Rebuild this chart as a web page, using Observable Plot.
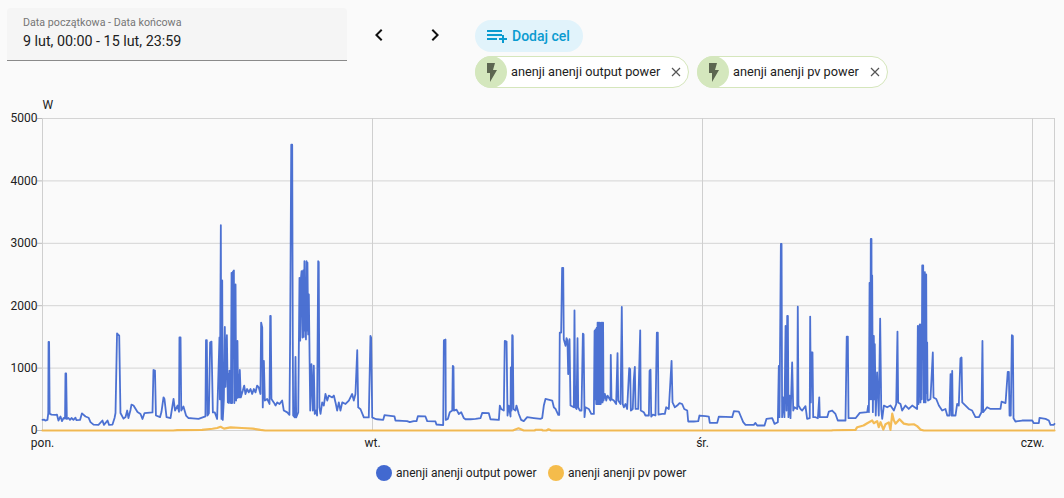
<!DOCTYPE html>
<html lang="pl">
<head>
<meta charset="utf-8">
<script src="https://cdn.jsdelivr.net/npm/d3@7"></script>
<script src="https://cdn.jsdelivr.net/npm/@observablehq/plot@0.6"></script>
<style>
html,body{margin:0;padding:0;background:#fafafa;font-family:Roboto,sans-serif;overflow:hidden}
#page{position:relative;width:1064px;height:498px}
.abs{position:absolute;white-space:nowrap}
#date{left:7px;top:8px;width:340px;height:52px;background:#f5f5f5;border-bottom:1px solid #8a8a8a;border-radius:4px 4px 0 0}
#date .l{position:absolute;left:16px;top:8px;font-size:10.7px;color:#757575;line-height:14px}
#date .v{position:absolute;left:16px;top:23px;font-size:14.3px;color:#212121;line-height:20px}
#add{left:475px;top:20px;width:108px;height:32px;background:#e1f3fb;border-radius:16px;color:#0a9bd0;font-weight:500;font-size:14px;line-height:32px}
#add span{position:absolute;left:37px}
.chip{top:56px;height:30px;background:#fff;border:1px solid #d5e6bc;border-radius:16px;box-sizing:content-box}
.chip .c{position:absolute;left:-1px;top:-1px;width:32px;height:32px;border-radius:16px;background:#d4e7bd}
.chip .t{position:absolute;top:0;font-size:12.75px;line-height:29px;color:#212121}
.chip svg{position:absolute}
#chart{left:0;top:95px}
#legend{left:0;top:460px;width:1064px;height:26px;font-size:12px;color:#212121}
#legend i{position:absolute;top:5px;width:16px;height:16px;border-radius:8px}
#legend span{position:absolute;top:5px;line-height:16px}
</style>
</head>
<body>
<div id="page">
  <div id="date" class="abs"><div class="l">Data początkowa - Data końcowa</div><div class="v">9 lut, 00:00 - 15 lut, 23:59</div></div>
  <svg class="abs" style="left:367px;top:23px" width="24" height="24" viewBox="0 0 24 24"><path d="M15.41 7.41 14 6l-6 6 6 6 1.41-1.41L10.83 12z" fill="#111"/></svg>
  <svg class="abs" style="left:423px;top:23px" width="24" height="24" viewBox="0 0 24 24"><path d="M8.59 16.59 10 18l6-6-6-6-1.41 1.41L13.17 12z" fill="#111"/></svg>
  <div id="add" class="abs"><svg style="position:absolute;left:10px;top:4px" width="24" height="24" viewBox="0 0 24 24"><path d="M2 6h15v2H2zm0 4h15v2H2zm0 4h10v2H2zm15 0v-3h2v3h3v2h-3v3h-2v-3h-3v-2z" fill="#0a9bd0"/></svg><span>Dodaj cel</span></div>
  <div class="abs chip" style="left:475px;width:212px"><div class="c"></div>
    <svg style="left:3px;top:3px" width="24" height="24" viewBox="0 0 24 24"><path d="M8 3h8l-2 7h4l-7 12v-9H8z" fill="#5c6650"/></svg>
    <div class="t" style="left:35px">anenji anenji output power</div>
    <svg style="left:193px;top:8px" width="14" height="14" viewBox="0 0 14 14"><path d="M3 3l8 8M11 3l-8 8" stroke="#555" stroke-width="1.2"/></svg></div>
  <div class="abs chip" style="left:697px;width:189px"><div class="c"></div>
    <svg style="left:3px;top:3px" width="24" height="24" viewBox="0 0 24 24"><path d="M8 3h8l-2 7h4l-7 12v-9H8z" fill="#5c6650"/></svg>
    <div class="t" style="left:35px">anenji anenji pv power</div>
    <svg style="left:170px;top:8px" width="14" height="14" viewBox="0 0 14 14"><path d="M3 3l8 8M11 3l-8 8" stroke="#555" stroke-width="1.2"/></svg></div>
  <div id="chart" class="abs"></div>
  <div id="legend" class="abs">
    <i style="left:376px;background:#4269d0"></i><span style="left:396px">anenji anenji output power</span>
    <i style="left:548px;background:#f5bc4b"></i><span style="left:568px">anenji anenji pv power</span>
  </div>
</div>
<script>
const dayLabels = ["pon.", "wt.", "śr.", "czw."];
const dayTicks = [0, 24, 48, 72];
const wattTicks = [0, 1000, 2000, 3000, 4000, 5000];
const endHour = 73.6;

// [hours since Monday 00:00, watts]
const outputMondayMorning = [[0,170],[.1,175],[.2,160],[.36,170],[.42,280],[.44,1420],[.48,1420],[.52,270],[.65,255],[.95,250],[1.05,255],[1.16,160],[1.31,225],[1.42,150],[1.53,200],[1.64,190],[1.67,915],[1.72,915],[1.77,185],[1.89,200],[2,170],[2.11,200],[2.25,170],[2.4,205],[2.47,165],[2.73,170],[2.87,275],[3.13,225],[3.35,205],[3.49,135],[3.71,95],[4.07,90],[4.36,160],[4.47,90],[4.73,160],[4.84,90],[5.09,95],[5.24,200],[5.31,280],[5.42,1555],[5.53,1530],[5.58,1520],[5.67,280],[5.89,190],[6.04,215],[6.16,320],[6.25,200],[6.4,330],[6.47,415],[6.62,400],[6.91,295],[7.13,265],[7.27,185],[7.42,280],[8,290],[8.07,970],[8.18,960],[8.25,240],[8.55,215],[8.65,295],[8.8,532],[8.87,505],[9.02,215],[9.31,200],[9.53,505],[9.64,320],[9.82,400],[9.93,300],[9.96,1490],[10.04,1490],[10.09,320],[10.25,385],[10.44,240],[10.62,200],[10.91,195],[11.35,185],[11.85,225],[11.89,1447],[11.95,1447],[12,240]];
const outputMondayAfternoon = [[12.1,277],[12.19,1410],[12.29,1425],[12.39,290],[12.53,290],[12.7,185],[12.78,810],[12.87,1490],[12.9,500],[12.97,3290],[13,600],[13.02,185],[13.07,2405],[13.11,170],[13.19,500],[13.26,1660],[13.31,700],[13.41,1530],[13.48,450],[13.52,900],[13.56,440],[13.6,960],[13.63,470],[13.67,900],[13.7,440],[13.75,2527],[13.79,440],[13.84,2540],[13.92,2565],[13.95,440],[13.99,950],[14.04,2340],[14.08,480],[14.11,1000],[14.15,520],[14.18,1436],[14.22,530],[14.25,900],[14.3,530],[14.35,970],[14.42,530],[14.57,640],[14.67,720],[14.76,585],[14.88,665],[15,610],[15.13,665],[15.25,585],[15.37,665],[15.49,610],[15.61,720],[15.73,690],[15.85,585],[15.9,1730],[15.98,1650],[16.02,370],[16.1,1117],[16.17,480],[16.34,505],[16.51,425],[16.56,1835],[16.6,1835],[16.65,505],[16.82,450],[16.95,400],[17.07,450],[17.24,425],[17.43,480],[17.55,320],[17.8,290],[17.96,250],[18.01,1490],[18.09,4580],[18.16,4580],[18.2,1490],[18.23,240],[18.35,210],[18.4,1180],[18.45,210],[18.6,290],[18.69,2447],[18.74,1440],[18.78,2400],[18.84,2553],[18.91,1490],[18.96,2565],[19,1500],[19.05,2713],[19.09,1600],[19.13,2300],[19.16,1460],[19.2,2713],[19.24,1600],[19.27,2690],[19.32,1540],[19.37,2180],[19.47,320],[19.56,1064],[19.66,320],[19.73,1040],[19.8,265],[19.9,320],[19.97,240],[20.05,2713],[20.09,2700],[20.14,370],[20.22,265],[20.34,450],[20.46,400],[20.58,585],[20.71,480],[20.82,560],[21.07,530],[21.19,560],[21.31,450],[21.43,320],[21.55,450],[21.67,320],[21.8,450],[22.04,425],[22.28,480],[22.52,585],[22.64,480],[22.76,585],[22.89,1287],[22.96,370],[23.13,340],[23.37,210],[23.73,210],[23.85,1516],[23.9,1490],[23.98,210]];
const outputTuesdayMorning = [[24.22,185],[24.34,180],[24.78,170],[24.87,245],[25.31,235],[25.6,225],[25.67,160],[26.16,155],[26.52,150],[26.71,133],[27,150],[27.2,150],[27.3,229],[27.85,225],[27.98,150],[28.58,145],[28.65,96],[29.14,85],[29.19,1447],[29.31,1458],[29.33,170],[29.48,185],[29.62,293],[29.8,320],[29.84,1037],[29.89,1020],[29.92,320],[30.11,335],[30.28,265],[30.45,293],[30.64,200],[30.76,180],[31.13,180],[31.49,186],[31.85,197],[31.98,282],[32.46,277],[32.58,180],[33.19,170],[33.26,400],[33.36,345],[33.55,320],[33.62,1436],[33.75,1425],[33.82,240],[33.91,400],[34.04,223],[34.06,1010],[34.11,320],[34.16,1530],[34.2,1515],[34.25,345],[34.4,320],[34.47,400],[34.64,265],[34.81,170],[35,150],[35.25,213],[35.73,200],[36.22,186],[36.34,200],[36.46,400],[36.58,505]];
const outputTuesdayAfternoon = [[37.07,480],[37.19,372],[37.31,345],[37.51,250],[37.58,250],[37.62,1570],[37.72,1570],[37.79,2607],[37.87,2607],[37.91,1463],[38.04,1357],[38.11,1480],[38.18,1440],[38.23,904],[38.33,1463],[38.4,400],[38.64,372],[38.69,1926],[38.74,372],[38.84,345],[38.91,1480],[38.96,372],[39.08,320],[39.2,320],[39.3,1553],[39.35,1540],[39.42,213],[39.49,372],[39.73,345],[39.91,265],[40.1,265],[40.15,1596],[40.18,500],[40.22,1620],[40.27,425],[40.31,1650],[40.34,425],[40.37,1730],[40.41,425],[40.44,1730],[40.48,425],[40.51,1730],[40.54,425],[40.57,1700],[40.6,425],[40.63,1730],[40.67,450],[40.7,1730],[40.73,450],[40.77,1730],[40.8,480],[40.9,585],[41,480],[41.09,560],[41.31,480],[41.33,1213],[41.38,505],[41.55,480],[41.72,425],[41.82,1240],[41.87,480],[42.04,425],[42.13,1980],[42.2,425],[42.28,372],[42.4,425],[42.52,345],[42.67,1000],[42.74,985],[42.79,320],[42.93,345],[43,800],[43.08,1021],[43.13,345],[43.32,345],[43.47,1606],[43.51,320],[43.73,293],[43.85,240],[44.1,240],[44.15,957],[44.22,975],[44.27,223],[44.39,255],[44.58,240],[44.68,1570],[44.75,1570],[44.8,255],[45.07,265],[45.26,265],[45.36,372],[45.55,345],[45.75,1117],[45.82,450],[45.99,372],[46.16,400],[46.33,440],[46.52,425],[46.67,345],[46.89,320],[46.96,144],[47.37,144],[47.69,149],[47.78,240],[48.22,229],[48.46,223],[48.53,122]];
const outputWednesdayMorning = [[49.07,122],[49.19,223],[50.16,213],[50.28,309],[50.64,303],[50.76,240],[50.96,133],[51.13,90],[51.73,90],[51.85,122],[51.98,80],[52.51,80],[52.65,186],[53.07,197],[53.24,106],[53.48,133],[53.55,1037],[53.6,213],[53.7,2990],[53.75,2990],[53.79,213],[53.87,532],[53.96,213],[54.04,1676],[54.11,320],[54.16,1835],[54.21,1835],[54.25,213],[54.33,560],[54.4,197],[54.52,1090],[54.6,320],[54.69,372],[54.89,345],[54.93,1984],[54.98,400],[55.13,345],[55.25,320],[55.49,390],[55.61,186],[55.8,197],[55.83,1825],[55.88,450],[55.93,1250],[56,1250],[56.05,213],[56.22,213],[56.39,197],[56.49,532],[56.53,213],[57.07,213],[57.19,303],[57.43,320],[57.67,265],[57.84,160],[58.4,160],[58.49,1506],[58.57,1506],[58.62,197],[59.13,197],[59.44,282],[59.98,293],[60.05,400],[60.1,293],[60.15,2367],[60.2,500],[60.24,3070],[60.29,3070],[60.31,500],[60.34,2484],[60.39,293],[60.43,1000],[60.46,1516],[60.5,500],[60.53,1383],[60.6,240]];
const outputWednesdayAfternoon = [[60.7,930],[60.82,240],[60.92,1793],[61,345],[61.07,186],[61.19,400],[61.43,372],[61.67,400],[61.92,320],[62.09,425],[62.18,1585],[62.23,450],[62.4,425],[62.52,320],[62.76,400],[63,345],[63.25,400],[63.61,345],[63.66,1676],[63.71,425],[63.76,1650],[63.81,1702],[63.85,450],[63.9,1700],[63.94,500],[63.98,2644],[64.05,2644],[64.1,450],[64.13,2500],[64.17,2538],[64.22,450],[64.27,2500],[64.3,600],[64.34,1410],[64.37,500],[64.41,480],[64.58,505],[64.75,1250],[64.8,530],[65,505],[65.19,400],[65.43,320],[65.67,345],[65.8,240],[65.96,240],[66.04,904],[66.11,240],[66.16,957],[66.2,240],[66.4,240],[66.52,425],[66.64,400],[66.76,1154],[66.84,1170],[66.89,450],[67.13,400],[67.37,345],[67.61,320],[67.85,213],[68.1,213],[68.29,293],[68.36,1436],[68.41,293],[68.7,372],[68.95,345],[69.31,345],[69.67,345],[69.75,463],[70.04,440],[70.2,940],[70.28,940],[70.33,240],[70.42,240],[70.5,1527],[70.57,1516],[70.62,197],[70.76,144],[71.25,160],[71.98,160],[72.1,117],[72.46,117],[72.51,202],[72.95,186],[73.19,160],[73.31,90],[73.53,90],[73.6,106]];
const pvPower = [[0,0],[9.5,0],[9.8,6],[11.6,10],[12.36,28],[12.7,40],[12.95,60],[13.2,30],[13.67,50],[14.5,40],[15.3,30],[15.85,10],[16.2,0],[34.2,0],[34.62,35],[35,0],[35.8,0],[35.85,12],[36.3,12],[36.4,0],[36.65,0],[36.8,20],[37,0],[57.4,0],[57.45,4],[59.13,10],[59.25,53],[59.71,80],[59.98,117],[60.34,160],[60.46,117],[60.7,150],[60.82,53],[60.95,133],[61.15,15],[61.31,100],[61.55,130],[61.67,10],[61.8,270],[61.92,160],[62.04,110],[62.33,180],[62.64,110],[63,95],[63.37,100],[63.61,70],[63.85,15],[64.1,0],[73.6,0]];

const outputPower = [...outputMondayMorning, ...outputMondayAfternoon, ...outputTuesdayMorning, ...outputTuesdayAfternoon, ...outputWednesdayMorning, ...outputWednesdayAfternoon];

const chart = Plot.plot({
  width: 1064, height: 360,
  marginLeft: 42, marginRight: 10, marginTop: 23, marginBottom: 25,
  style: {background: "transparent", fontFamily: "Roboto, sans-serif", fontSize: "12px", color: "#212121"},
  x: {domain: [0, endHour], label: null},
  y: {domain: [0, 5000], label: null},
  marks: [
    Plot.ruleY(wattTicks, {stroke: "#d4d4d4", strokeWidth: 1}),
    Plot.ruleX([...dayTicks, endHour], {stroke: "#cfcfcf", strokeWidth: 1}),
    Plot.axisY({ticks: wattTicks, tickSize: 5, tickPadding: 0, label: null, stroke: "#bbb", tickFormat: d => String(d)}),
    Plot.axisX({ticks: dayTicks, tickSize: 0, tickPadding: 8, label: null, tickFormat: (d, i) => dayLabels[i]}),
    Plot.text(["W"], {frameAnchor: "top-left", dx: 0, dy: -18, textAnchor: "start", fontSize: 12, fill: "#212121"}),
    Plot.line(outputPower, {x: d => d[0], y: d => d[1], stroke: "#4269d0", strokeWidth: 1.8, strokeOpacity: .95, curve: "linear"}),
    Plot.line(pvPower, {x: d => d[0], y: d => d[1], stroke: "#f3b544", strokeWidth: 2.2, strokeOpacity: .9, curve: "linear"})
  ]
});
document.getElementById("chart").append(chart);
</script>
</body>
</html>
